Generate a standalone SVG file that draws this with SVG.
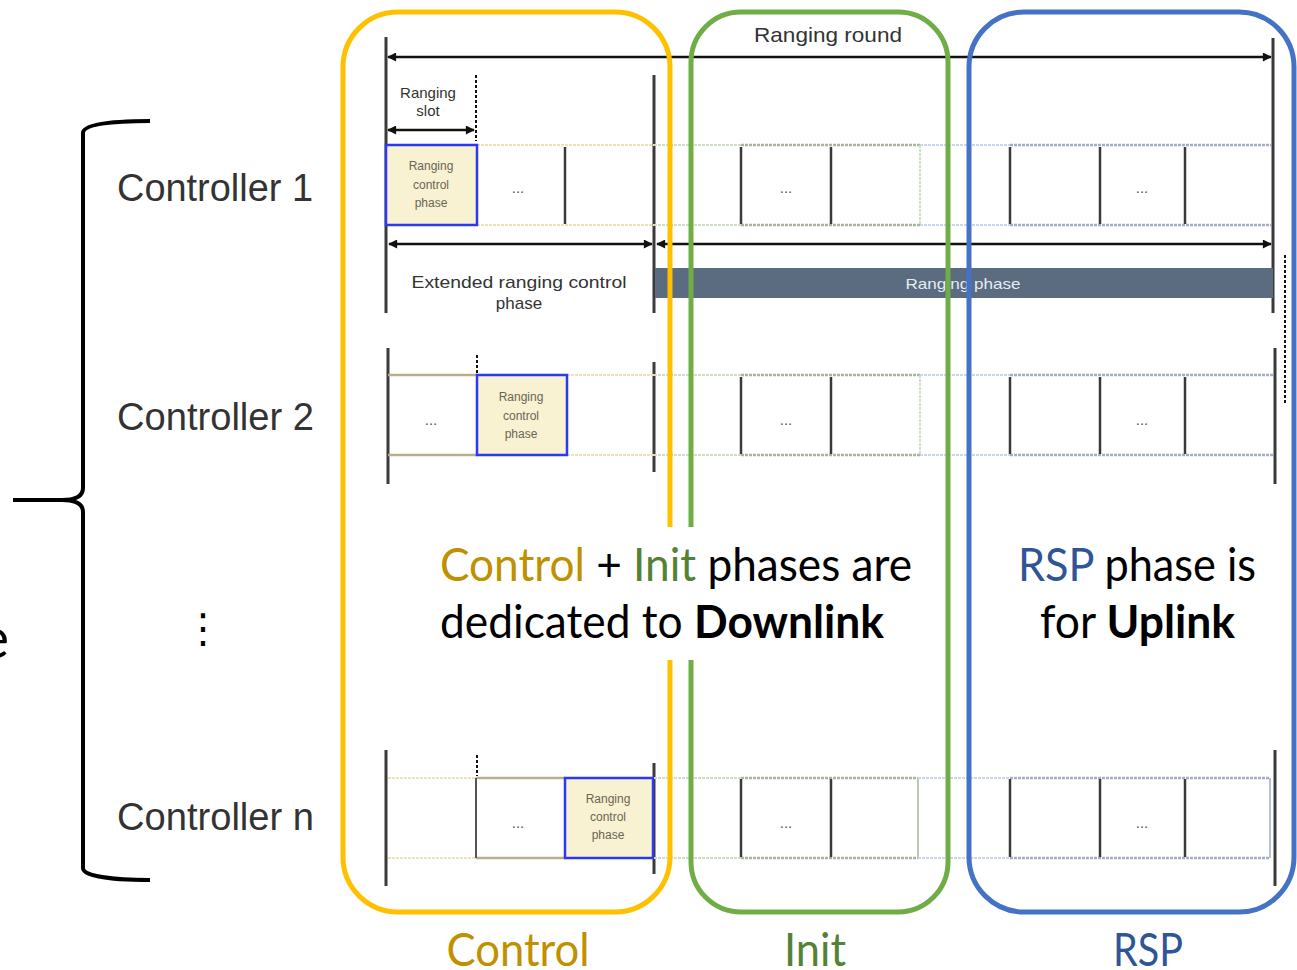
<svg xmlns="http://www.w3.org/2000/svg" width="1297" height="970" viewBox="0 0 1297 970">
<style>
.bar{stroke:#3a3a3a;stroke-width:3;fill:none}
.tbar{stroke:#3a3a3a;stroke-width:2.5;fill:none}
.arr{stroke:#111;stroke-width:2.5;fill:none;marker-start:url(#ah);marker-end:url(#ah)}
.fy{stroke:#EDE3B8;stroke-width:2;stroke-dasharray:3 1}
.fg{stroke:#CFE0C6;stroke-width:2;stroke-dasharray:3 1}
.fb{stroke:#C9D8EE;stroke-width:2;stroke-dasharray:3 1}
.dg{stroke:#A9B49F;stroke-width:2.5;stroke-dasharray:3 1}
.db{stroke:#A3AEC2;stroke-width:2.5;stroke-dasharray:3 1}
.dt{stroke:#B8AE8E;stroke-width:2.5}
.rcp{fill:#F8F1D2;stroke:#2B3AF2;stroke-width:2.5}
.rcpt{font-family:"Liberation Sans",Arial,sans-serif;font-size:12px;fill:#6a6656;text-anchor:middle}
.dots{font-family:"Liberation Sans",Arial,sans-serif;font-size:15px;fill:#555;text-anchor:middle}
.tl{font-family:"Liberation Sans",Arial,sans-serif;fill:#333}
.ctl{font-family:"Liberation Sans",Arial,sans-serif;font-size:38px;fill:#333}
.big{font-family:Lato,"Open Sans",sans-serif;font-size:46px;fill:#000}
.dash{stroke:#111;stroke-width:2;stroke-dasharray:3 2;fill:none}
</style>
<defs>
<marker id="ah" viewBox="0 0 10 10" refX="9" refY="5" markerWidth="4" markerHeight="3.6" orient="auto-start-reverse" markerUnits="strokeWidth">
<path d="M0,0 L10,5 L0,10 z" fill="#111"/>
</marker>
</defs>
<rect width="1297" height="970" fill="#fff"/>

<!-- left brace and partial text -->
<g id="brace">
<path d="M150,121 C112,121 83,124 83,133 L83,488 C83,496 76,500 62,500 L13,500 L62,500 C76,500 83,504 83,512 L83,868 C83,876 112,880 150,880" fill="none" stroke="#000" stroke-width="4"/>
<text x="9" y="658" text-anchor="end" class="big" style="font-size:56px">e</text>
</g>

<g id="controller-dots">
<text x="203" y="642" text-anchor="middle" style="font-family:'DejaVu Sans',sans-serif;font-size:40px;fill:#000">⋮</text>
</g>

<!-- timing frame -->
<g id="ranging-round">
<line class="bar" x1="386" y1="37" x2="386" y2="313"/>
<line class="bar" x1="1273" y1="38" x2="1273" y2="313"/>
<line class="bar" x1="654" y1="75" x2="654" y2="313"/>
<text x="828" y="42" text-anchor="middle" class="tl" style="font-size:21px" textLength="148" lengthAdjust="spacingAndGlyphs">Ranging round</text>
<text x="428" y="98" text-anchor="middle" class="tl" style="font-size:15px">Ranging</text>
<text x="428" y="116" text-anchor="middle" class="tl" style="font-size:15px">slot</text>
<line class="dash" x1="476" y1="75" x2="476" y2="141"/>
<text x="519" y="288" text-anchor="middle" class="tl" style="font-size:17px" textLength="215" lengthAdjust="spacingAndGlyphs">Extended ranging control</text>
<text x="519" y="309" text-anchor="middle" class="tl" style="font-size:17px">phase</text>
<rect x="655" y="268" width="618" height="30" fill="#5B6B80"/>
<text x="963" y="289" text-anchor="middle" class="tl" style="font-size:15px;fill:#E6ECF2" textLength="115" lengthAdjust="spacingAndGlyphs">Ranging phase</text>
<line class="dash" x1="1285" y1="255" x2="1285" y2="405"/>
</g>

<g id="controller-1">
<text x="117" y="201" class="ctl" textLength="196" lengthAdjust="spacingAndGlyphs">Controller 1</text>
<line class="fy" x1="477" y1="145" x2="654" y2="145"/><line class="fy" x1="477" y1="225" x2="654" y2="225"/>
<line class="fg" x1="654" y1="145" x2="741" y2="145"/><line class="fg" x1="654" y1="225" x2="741" y2="225"/>
<line class="dg" x1="741" y1="145" x2="920" y2="145"/><line class="dg" x1="741" y1="225" x2="920" y2="225"/>
<line class="fg" x1="920" y1="145" x2="920" y2="225"/>
<line class="fb" x1="920" y1="145" x2="1010" y2="145"/><line class="fb" x1="920" y1="225" x2="1010" y2="225"/>
<line class="db" x1="1010" y1="145" x2="1271" y2="145"/><line class="db" x1="1010" y1="225" x2="1271" y2="225"/>
<rect class="rcp" x="386" y="145" width="91" height="80"/>
<text class="rcpt" x="431" y="170">Ranging</text><text class="rcpt" x="431" y="189">control</text><text class="rcpt" x="431" y="207">phase</text>
<text class="dots" x="518" y="193">...</text>
<line class="tbar" x1="565" y1="147" x2="565" y2="224"/>
<line class="tbar" x1="741" y1="147" x2="741" y2="224"/>
<line class="tbar" x1="831" y1="147" x2="831" y2="224"/>
<text class="dots" x="786" y="193">...</text>
<line class="tbar" x1="1010" y1="147" x2="1010" y2="224"/>
<line class="tbar" x1="1100" y1="147" x2="1100" y2="224"/>
<line class="tbar" x1="1185" y1="147" x2="1185" y2="224"/>
<text class="dots" x="1142" y="193">...</text>
</g>

<g id="controller-2">
<text x="117" y="430" class="ctl" textLength="197" lengthAdjust="spacingAndGlyphs">Controller 2</text>
<line class="bar" x1="388" y1="348" x2="388" y2="484"/>
<line class="bar" x1="654" y1="362" x2="654" y2="472"/>
<line class="bar" x1="1275" y1="348" x2="1275" y2="484"/>
<line class="dt" x1="388" y1="375" x2="477" y2="375"/><line class="dt" x1="388" y1="455" x2="477" y2="455"/>
<line class="fy" x1="567" y1="375" x2="654" y2="375"/><line class="fy" x1="567" y1="455" x2="654" y2="455"/>
<line class="fg" x1="654" y1="375" x2="741" y2="375"/><line class="fg" x1="654" y1="455" x2="741" y2="455"/>
<line class="dg" x1="741" y1="375" x2="920" y2="375"/><line class="dg" x1="741" y1="455" x2="920" y2="455"/>
<line class="fg" x1="920" y1="375" x2="920" y2="455"/>
<line class="fb" x1="920" y1="375" x2="1010" y2="375"/><line class="fb" x1="920" y1="455" x2="1010" y2="455"/>
<line class="db" x1="1010" y1="375" x2="1273" y2="375"/><line class="db" x1="1010" y1="455" x2="1273" y2="455"/>
<line class="dash" x1="477" y1="355" x2="477" y2="374"/>
<text class="dots" x="431" y="425">...</text>
<rect class="rcp" x="477" y="375" width="90" height="80"/>
<text class="rcpt" x="521" y="401">Ranging</text><text class="rcpt" x="521" y="420">control</text><text class="rcpt" x="521" y="438">phase</text>
<line class="tbar" x1="741" y1="377" x2="741" y2="454"/>
<line class="tbar" x1="831" y1="377" x2="831" y2="454"/>
<text class="dots" x="786" y="425">...</text>
<line class="tbar" x1="1010" y1="377" x2="1010" y2="454"/>
<line class="tbar" x1="1100" y1="377" x2="1100" y2="454"/>
<line class="tbar" x1="1185" y1="377" x2="1185" y2="454"/>
<text class="dots" x="1142" y="425">...</text>
</g>

<g id="controller-n">
<text x="117" y="830" class="ctl" textLength="197" lengthAdjust="spacingAndGlyphs">Controller n</text>
<line class="bar" x1="386" y1="750" x2="386" y2="886"/>
<line class="bar" x1="654" y1="763" x2="654" y2="874"/>
<line class="bar" x1="1275" y1="750" x2="1275" y2="886"/>
<line class="fy" x1="388" y1="778" x2="476" y2="778"/><line class="fy" x1="388" y1="858" x2="476" y2="858"/>
<line class="dt" x1="476" y1="778" x2="565" y2="778"/><line class="dt" x1="476" y1="858" x2="565" y2="858"/>
<line x1="476" y1="778" x2="476" y2="858" stroke="#555" stroke-width="2"/>
<line class="dash" x1="477" y1="755" x2="477" y2="776"/>
<text class="dots" x="518" y="828">...</text>
<rect class="rcp" x="565" y="778" width="88" height="80"/>
<text class="rcpt" x="608" y="803">Ranging</text><text class="rcpt" x="608" y="821">control</text><text class="rcpt" x="608" y="839">phase</text>
<line class="fg" x1="654" y1="778" x2="741" y2="778"/><line class="fg" x1="654" y1="858" x2="741" y2="858"/>
<line class="dg" x1="741" y1="778" x2="918" y2="778"/><line class="dg" x1="741" y1="858" x2="918" y2="858"/>
<line x1="918" y1="778" x2="918" y2="858" stroke="#B9C9B0" stroke-width="2"/>
<line class="fb" x1="918" y1="778" x2="1010" y2="778"/><line class="fb" x1="918" y1="858" x2="1010" y2="858"/>
<line class="db" x1="1010" y1="778" x2="1270" y2="778"/><line class="db" x1="1010" y1="858" x2="1270" y2="858"/>
<line x1="1270" y1="778" x2="1270" y2="858" stroke="#B4C1D6" stroke-width="2"/>
<line class="tbar" x1="741" y1="779" x2="741" y2="857"/>
<line class="tbar" x1="831" y1="779" x2="831" y2="857"/>
<text class="dots" x="786" y="828">...</text>
<line class="tbar" x1="1010" y1="779" x2="1010" y2="857"/>
<line class="tbar" x1="1100" y1="779" x2="1100" y2="857"/>
<line class="tbar" x1="1185" y1="779" x2="1185" y2="857"/>
<text class="dots" x="1142" y="828">...</text>
</g>

<g id="connectors">
<line class="arr" x1="388" y1="57" x2="1271" y2="57"/>
<line class="arr" x1="388" y1="130" x2="474" y2="130"/>
<line class="arr" x1="389" y1="244" x2="652" y2="244"/>
<line class="arr" x1="657" y1="244" x2="1271" y2="244"/>
</g>

<g id="control-frame">
<rect x="343" y="12" width="327" height="900" rx="55" ry="55" fill="none" stroke="#FFC000" stroke-width="5"/>
<text x="518" y="966" text-anchor="middle" class="big" style="fill:#BF9000" textLength="143" lengthAdjust="spacingAndGlyphs">Control</text>
</g>
<g id="init-frame">
<rect x="691" y="12" width="257" height="900" rx="50" ry="50" fill="none" stroke="#70AD47" stroke-width="5"/>
<text x="815" y="966" text-anchor="middle" class="big" style="fill:#548235" textLength="62" lengthAdjust="spacingAndGlyphs">Init</text>
</g>
<g id="rsp-frame">
<rect x="969" y="12" width="325" height="900" rx="55" ry="55" fill="none" stroke="#4472C4" stroke-width="5"/>
<text x="1148" y="966" text-anchor="middle" class="big" style="fill:#2F5597" textLength="70" lengthAdjust="spacingAndGlyphs">RSP</text>
</g>

<g id="downlink-note">
<rect x="430" y="527" width="500" height="133" fill="#fff"/>
<text x="440" y="581" class="big" textLength="472" lengthAdjust="spacingAndGlyphs"><tspan fill="#BF9000">Control</tspan> + <tspan fill="#548235">Init</tspan> phases are</text>
<text x="440" y="638" class="big" textLength="444" lengthAdjust="spacingAndGlyphs">dedicated to <tspan font-weight="bold">Downlink</tspan></text>
</g>
<g id="uplink-note">
<text x="1018" y="581" class="big" textLength="238" lengthAdjust="spacingAndGlyphs"><tspan fill="#2F5597">RSP</tspan> phase is</text>
<text x="1040" y="638" class="big" textLength="195" lengthAdjust="spacingAndGlyphs">for <tspan font-weight="bold">Uplink</tspan></text>
</g>
</svg>
